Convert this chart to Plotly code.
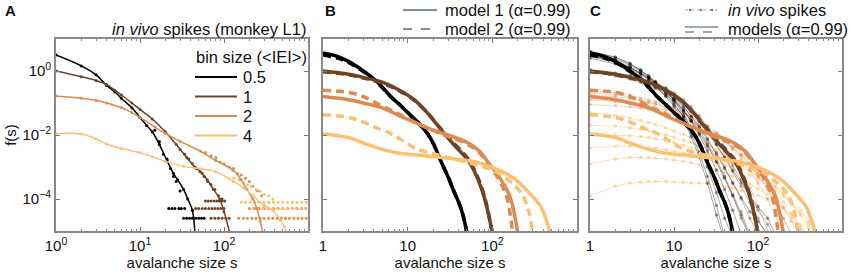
import plotly.graph_objects as go

# ---------------- colours by bin size ----------------
bin_labels = ["0.5", "1", "2", "4"]
bin_colors = ["#000000", "#6f4324", "#de8a50", "#fcc073"]
thin_colors = ["rgba(0,0,0,0.38)", "rgba(111,67,36,0.40)", "rgba(222,138,80,0.40)", "rgba(252,192,115,0.55)"]
legend_grey = "#7f909b"

# ---------------- Panel A: in vivo, smoothed lines (s, log10 f) ----------------
A_s = [
    [1, 2, 3, 4, 5, 6, 8, 10, 12, 14, 17, 21, 25, 28, 33, 37, 42, 45],
    [1, 2, 3, 4, 5, 6, 8, 10, 14, 20, 27, 36, 45, 55, 63, 75, 89, 100, 117],
    [1, 2, 3, 4, 6, 8, 10, 15, 20, 30, 52, 80, 128, 160, 187, 220, 246, 270, 290],
    [1, 2, 3, 4, 6, 10, 14, 20, 33, 52, 80, 130, 170, 222, 300, 383, 464, 520, 560],
]
A_logf = [
    [0.5, 0.16, -0.12, -0.45, -0.65, -0.85, -1.15, -1.45, -1.7, -1.9, -2.3, -2.8, -3.2, -3.4, -3.7, -4.0, -4.35, -5.05],
    [0.0, -0.18, -0.3, -0.42, -0.6, -0.75, -1.0, -1.2, -1.5, -1.9, -2.3, -2.7, -3.0, -3.2, -3.4, -3.7, -4.0, -4.4, -5.05],
    [-0.78, -0.85, -0.92, -1.0, -1.15, -1.3, -1.45, -1.75, -1.95, -2.2, -2.5, -2.8, -3.1, -3.4, -3.7, -4.0, -4.3, -4.7, -5.05],
    [-1.95, -1.97, -2.12, -2.28, -2.42, -2.55, -2.68, -2.82, -2.98, -3.05, -3.15, -3.45, -3.65, -3.9, -4.2, -4.35, -4.65, -4.85, -5.05],
]
# Panel A: raw (unsmoothed) points in the tails (s, log10 f)
A_dots_s = [
    [15, 17, 19, 21, 23, 25, 27, 30, 22, 24, 26, 29, 31, 34, 33, 36, 39, 42, 46, 50, 54, 58],
    [30, 34, 38, 42, 47, 52, 58, 64, 70, 78, 86, 95, 60, 65, 70, 76, 82, 88, 95, 102,
     46, 50, 55, 60, 66, 72, 78, 85, 92, 100, 70, 78, 86, 95, 105, 115],
    [60, 70, 80, 90, 100, 115, 130, 145, 160, 180, 200, 220, 250, 280,
     150, 170, 190, 215, 240, 270, 300, 340, 380, 430, 480, 540, 600, 680, 760, 850, 950,
     200, 230, 260, 300, 340, 390, 440, 500, 570, 650, 740, 840, 940],
    [130, 150, 170, 190, 210, 240, 270, 300, 340, 380,
     160, 180, 205, 230, 260, 300, 340, 390, 440, 500, 570, 650, 740, 840, 950,
     220, 250, 290, 330, 380, 430, 490, 560, 640, 720, 820, 930],
]
A_dots_logf = [
    [-1.85, -2.2, -2.6, -2.75, -3.05, -3.3, -3.45, -3.75, -4.3, -4.3, -4.3, -4.3, -4.3, -4.3,
     -4.6, -4.6, -4.6, -4.6, -4.6, -4.6, -4.6, -4.6],
    [-2.45, -2.6, -2.75, -2.9, -3.05, -3.15, -3.3, -3.45, -3.55, -3.7, -3.9, -4.0,
     -4.06, -4.06, -4.06, -4.06, -4.06, -4.06, -4.06, -4.06,
     -4.3, -4.3, -4.3, -4.3, -4.3, -4.3, -4.3, -4.3, -4.3, -4.3,
     -4.6, -4.6, -4.6, -4.6, -4.6, -4.6],
    [-2.55, -2.65, -2.7, -2.85, -2.9, -3.0, -3.05, -3.2, -3.25, -3.35, -3.45, -3.6, -3.75, -3.9,
     -4.6, -4.6, -4.6, -4.6, -4.6, -4.6, -4.6, -4.6, -4.6, -4.6, -4.6, -4.6, -4.6, -4.6, -4.6, -4.6, -4.6,
     -4.3, -4.3, -4.3, -4.3, -4.3, -4.3, -4.3, -4.3, -4.3, -4.3, -4.3, -4.3, -4.3],
    [-3.35, -3.4, -3.5, -3.55, -3.6, -3.7, -3.75, -3.85, -3.9, -4.0,
     -4.1, -4.1, -4.1, -4.1, -4.1, -4.1, -4.1, -4.1, -4.1, -4.1, -4.1, -4.1, -4.1, -4.1, -4.1,
     -4.3, -4.3, -4.3, -4.3, -4.3, -4.3, -4.3, -4.3, -4.3, -4.3, -4.3, -4.3],
]

# ---------------- Panel B/C: models (s, log10 f) ----------------
M1_s = [
    [1, 1.5, 2, 3, 4, 5, 6.3, 8, 10, 13, 17.6, 20.8, 25, 30.5, 35, 40, 45, 50],
    [1, 2, 3, 5, 8, 12, 17, 25, 35, 52, 63, 75, 85, 100],
    [1, 2, 3, 5, 8, 12, 20, 30, 52, 70, 92, 120, 160, 180, 200],
    [1, 2, 3, 5, 7.7, 12, 25, 50, 75, 120, 190, 260, 366, 420, 480],
]
M1_logf = [
    [0.56, 0.45, 0.3, 0.0, -0.25, -0.5, -0.8, -1.05, -1.3, -1.58, -2.0, -2.35, -2.85, -3.35, -3.75, -4.1, -4.5, -5.05],
    [0.0, -0.1, -0.2, -0.35, -0.6, -0.9, -1.3, -1.85, -2.3, -2.8, -3.2, -3.7, -4.2, -5.05],
    [-0.8, -0.9, -1.0, -1.15, -1.4, -1.6, -1.85, -2.0, -2.25, -2.5, -2.9, -3.3, -3.9, -4.4, -5.05],
    [-1.97, -2.08, -2.25, -2.45, -2.56, -2.62, -2.7, -2.8, -2.9, -3.1, -3.4, -3.75, -4.2, -4.55, -5.05],
]
M2_s = [
    [1, 1.5, 2, 3, 4, 5, 6.3, 8, 10, 13, 17.6, 20.8, 25, 30.5, 35, 40, 45, 50],
    [1, 2, 3, 5, 8, 12, 17, 25, 35, 52, 63, 75, 85, 100],
    [1, 2, 3, 5, 8, 12, 20, 30, 52, 70, 92, 120, 150, 173],
    [1, 2, 3, 4.5, 6.3, 9, 12, 18, 30, 50, 80, 120, 170, 230, 270, 300],
]
M2_logf = [
    [0.5, 0.4, 0.27, -0.02, -0.27, -0.52, -0.8, -1.05, -1.3, -1.6, -2.0, -2.35, -2.85, -3.35, -3.75, -4.1, -4.5, -5.05],
    [-0.02, -0.12, -0.22, -0.38, -0.62, -0.92, -1.3, -1.82, -2.25, -2.75, -3.15, -3.65, -4.15, -5.05],
    [-0.6, -0.67, -0.8, -1.1, -1.35, -1.6, -1.85, -2.05, -2.3, -2.55, -2.95, -3.4, -4.0, -5.05],
    [-1.37, -1.45, -1.6, -1.8, -1.95, -2.2, -2.4, -2.55, -2.7, -2.85, -3.0, -3.2, -3.5, -3.9, -4.4, -5.05],
]

# ---------------- Panel C: individual recordings (s grid, log10 f) ----------------
C_s = [1, 2, 3, 4, 5, 6, 8, 10, 13, 16, 20, 25, 32, 40, 50, 63, 80, 100, 130, 160, 200, 250, 320, 400, 500, 630, 800]
C_logf = [
    [  # bin 0.5
        [0.6, 0.42, 0.22, 0.02, -0.18, -0.38, -0.7, -1.0, -1.45, -1.95, -2.55, -3.3, -4.2, -5.2],
        [0.5, 0.33, 0.12, -0.08, -0.28, -0.46, -0.8, -1.1, -1.55, -2.05, -2.7, -3.5, -4.5, -5.3],
        [0.45, 0.28, 0.08, -0.1, -0.25, -0.4, -0.65, -0.9, -1.25, -1.55, -1.95, -2.35, -2.85, -3.35, -3.9, -4.5, -5.2],
        [0.55, 0.38, 0.18, 0.0, -0.2, -0.36, -0.62, -0.88, -1.22, -1.58, -2.0, -2.5, -3.1, -3.7, -4.35, -5.1],
        [0.4, 0.22, 0.02, -0.18, -0.34, -0.5, -0.78, -1.05, -1.42, -1.8, -2.25, -2.8, -3.45, -4.15, -5.0],
        [0.62, 0.44, 0.24, 0.04, -0.14, -0.32, -0.62, -0.92, -1.35, -1.8, -2.35, -3.0, -3.8, -4.6, -5.2],
        [0.5, 0.3, 0.1, -0.08, -0.22, -0.38, -0.6, -0.82, -1.12, -1.42, -1.78, -2.15, -2.6, -3.05, -3.5, -3.95, -4.4, -4.7, -5.1],
        [0.48, 0.3, 0.12, -0.05, -0.2, -0.34, -0.55, -0.75, -1.02, -1.28, -1.58, -1.92, -2.3, -2.7, -3.1, -3.5, -3.9, -4.25, -4.6, -5.1],
    ],
    [  # bin 1
        [0.02, -0.1, -0.2, -0.3, -0.4, -0.5, -0.7, -0.9, -1.2, -1.5, -1.85, -2.25, -2.75, -3.3, -3.9, -4.6, -5.2],
        [0.0, -0.08, -0.16, -0.25, -0.33, -0.42, -0.58, -0.75, -1.0, -1.25, -1.55, -1.9, -2.3, -2.7, -3.15, -3.6, -4.1, -4.6, -5.2],
        [-0.05, -0.15, -0.25, -0.35, -0.45, -0.55, -0.75, -0.95, -1.25, -1.55, -1.9, -2.3, -2.8, -3.3, -3.85, -4.4, -5.1],
        [0.04, -0.06, -0.14, -0.22, -0.3, -0.38, -0.52, -0.68, -0.9, -1.12, -1.4, -1.72, -2.1, -2.5, -2.95, -3.4, -3.9, -4.35, -4.8, -5.2],
        [-0.02, -0.12, -0.22, -0.32, -0.42, -0.5, -0.68, -0.86, -1.12, -1.4, -1.72, -2.1, -2.55, -3.0, -3.5, -4.0, -4.6, -5.1],
    ],
    [  # bin 2
        [-0.6, -0.68, -0.76, -0.84, -0.9, -0.96, -1.06, -1.15, -1.3, -1.42, -1.58, -1.75, -1.95, -2.15, -2.4, -2.65, -2.95, -3.3, -3.7, -4.1, -4.6, -5.1],
        [-0.75, -0.8, -0.86, -0.92, -0.98, -1.03, -1.12, -1.2, -1.32, -1.44, -1.58, -1.74, -1.92, -2.12, -2.35, -2.6, -2.9, -3.25, -3.65, -4.1, -4.6, -5.1],
        [-0.9, -0.95, -1.0, -1.05, -1.1, -1.15, -1.22, -1.3, -1.42, -1.53, -1.67, -1.82, -2.0, -2.2, -2.45, -2.75, -3.1, -3.5, -4.0, -4.5, -5.1],
        [-1.05, -1.08, -1.12, -1.16, -1.2, -1.24, -1.3, -1.37, -1.47, -1.57, -1.7, -1.85, -2.02, -2.2, -2.4, -2.62, -2.88, -3.15, -3.5, -3.85, -4.25, -4.7, -5.2],
        [-0.68, -0.74, -0.82, -0.9, -0.97, -1.03, -1.14, -1.25, -1.4, -1.56, -1.75, -1.97, -2.22, -2.5, -2.82, -3.2, -3.65, -4.2, -5.0],
    ],
    [  # bin 4
        [-1.3, -1.38, -1.47, -1.55, -1.62, -1.68, -1.78, -1.87, -1.98, -2.08, -2.2, -2.32, -2.46, -2.6, -2.76, -2.93, -3.12, -3.32, -3.55, -3.8, -4.1, -4.45, -4.9, -5.3],
        [-1.7, -1.72, -1.78, -1.82, -1.87, -1.92, -2.0, -2.07, -2.16, -2.24, -2.33, -2.42, -2.53, -2.64, -2.76, -2.9, -3.05, -3.22, -3.42, -3.62, -3.85, -4.15, -4.5, -4.9, -5.3],
        [-2.0, -2.0, -2.02, -2.05, -2.08, -2.12, -2.18, -2.24, -2.32, -2.4, -2.48, -2.57, -2.67, -2.77, -2.88, -3.0, -3.13, -3.27, -3.43, -3.6, -3.8, -4.05, -4.35, -4.7, -5.1],
        [-2.4, -2.35, -2.35, -2.37, -2.4, -2.42, -2.46, -2.5, -2.56, -2.62, -2.68, -2.76, -2.84, -2.93, -3.03, -3.14, -3.26, -3.4, -3.55, -3.72, -3.92, -4.15, -4.45, -4.8, -5.2],
        [-2.9, -2.75, -2.7, -2.7, -2.7, -2.72, -2.75, -2.78, -2.82, -2.87, -2.93, -3.0, -3.08, -3.17, -3.28, -3.4, -3.53, -3.68, -3.85, -4.05, -4.3, -4.6, -4.95, -5.3],
        [-3.9, -3.6, -3.5, -3.48, -3.45, -3.45, -3.46, -3.47, -3.48, -3.5, -3.5, -3.52, -3.55, -3.6, -3.65, -3.72, -3.8, -3.9, -4.0, -4.15, -4.3, -4.5, -4.8, -5.2],
    ],
]

# ---------------- axis labels ----------------
y_tickvals = [1, 1e-2, 1e-4]
y_ticktext = ["10<sup>0</sup>", "10<sup>−2</sup>", "10<sup>−4</sup>"]
xA_ticktext = ["10<sup>0</sup>", "10<sup>1</sup>", "10<sup>2</sup>"]
xBC_ticktext = ["1", "10", "10<sup>2</sup>"]
x_tickvals = [1, 10, 100]

W, H = 850, 276
FONT = "Liberation Sans, Arial, sans-serif"
TICK_SIZE = 15
TEXT_SIZE = 16.5


def p(v):
    return [10 ** x for x in v]


fig = go.Figure()

# Panel A
for i in range(4):
    fig.add_trace(go.Scatter(x=A_dots_s[i], y=p(A_dots_logf[i]), mode="markers",
                             marker=dict(size=3, color=bin_colors[i]), xaxis="x", yaxis="y",
                             showlegend=False, hoverinfo="skip"))
for i in range(4):
    fig.add_trace(go.Scatter(x=A_s[i], y=p(A_logf[i]), mode="lines+markers",
                             line=dict(color=bin_colors[i], width=1.5, shape="spline"),
                             marker=dict(size=3, color=bin_colors[i]),
                             xaxis="x", yaxis="y", showlegend=False))

# Panel B
for i in range(4):
    fig.add_trace(go.Scatter(x=M2_s[i], y=p(M2_logf[i]), mode="lines",
                             line=dict(color=bin_colors[i], width=3.5, dash="8px,5px", shape="spline"),
                             xaxis="x2", yaxis="y2", showlegend=False))
    fig.add_trace(go.Scatter(x=M1_s[i], y=p(M1_logf[i]), mode="lines",
                             line=dict(color=bin_colors[i], width=3.5, shape="spline"),
                             xaxis="x2", yaxis="y2", showlegend=False))

# Panel C: thin recordings
for i in [3, 2, 1, 0]:
    for curve in C_logf[i]:
        fig.add_trace(go.Scatter(x=C_s[:len(curve)], y=p(curve), mode="lines+markers",
                                 line=dict(color=thin_colors[i], width=0.9),
                                 marker=dict(size=3.5, color=thin_colors[i]),
                                 xaxis="x3", yaxis="y3", showlegend=False))
for i in range(4):
    fig.add_trace(go.Scatter(x=M2_s[i], y=p(M2_logf[i]), mode="lines",
                             line=dict(color=bin_colors[i], width=3.5, dash="8px,5px", shape="spline"),
                             xaxis="x3", yaxis="y3", showlegend=False))
    fig.add_trace(go.Scatter(x=M1_s[i], y=p(M1_logf[i]), mode="lines",
                             line=dict(color=bin_colors[i], width=3.5, shape="spline"),
                             xaxis="x3", yaxis="y3", showlegend=False))

# ---------------- layout ----------------
def xaxis(dom, ticktext, anchor):
    return dict(type="log", range=[0, 3], domain=dom, anchor=anchor, automargin=False,
                tickvals=x_tickvals, ticktext=ticktext,
                ticks="inside", ticklen=4, tickcolor="#777", tickwidth=1,
                minor=dict(ticks="inside", ticklen=2.5, tickcolor="#888", dtick="D1", showgrid=False),
                showline=True, linecolor="#8a8a8a", linewidth=1.6, mirror="allticks",
                showgrid=False, zeroline=False,
                tickfont=dict(family=FONT, size=TICK_SIZE, color="#111"),
                title=dict(text="avalanche size s", standoff=2,
                           font=dict(family=FONT, size=TICK_SIZE, color="#111")))


def yaxis(anchor, show_labels):
    return dict(type="log", range=[-5, 1], domain=[1 - 231 / H, 1 - 39 / H], anchor=anchor,
                automargin=False,
                tickvals=y_tickvals, ticktext=y_ticktext,
                showticklabels=show_labels,
                ticks="inside", ticklen=4, tickcolor="#777",
                showline=True, linecolor="#8a8a8a", linewidth=1.6, mirror="allticks",
                showgrid=False, zeroline=False,
                tickfont=dict(family=FONT, size=TICK_SIZE, color="#111"))


fig.update_layout(
    width=W, height=H, margin=dict(l=0, r=0, t=0, b=0, autoexpand=False),
    paper_bgcolor="white", plot_bgcolor="white",
    font=dict(family=FONT, size=TICK_SIZE, color="#111"),
    xaxis=xaxis([56 / W, 308 / W], xA_ticktext, "y"),
    xaxis2=xaxis([323 / W, 577 / W], xBC_ticktext, "y2"),
    xaxis3=xaxis([590 / W, 842 / W], xBC_ticktext, "y3"),
    yaxis=yaxis("x", True),
    yaxis2=yaxis("x2", False),
    yaxis3=yaxis("x3", False),
)
fig.layout.yaxis.title = dict(text="f(s)", standoff=2, font=dict(family=FONT, size=TICK_SIZE, color="#111"))

ann = []
shapes = []


def px(x):
    return x / W


def py(y):
    return 1 - y / H


def text(x, y, t, size=TEXT_SIZE, xanchor="left", bold=False):
    ann.append(dict(xref="paper", yref="paper", x=px(x), y=py(y), text=t,
                    showarrow=False, xanchor=xanchor, yanchor="middle",
                    font=dict(family=FONT, size=size, color="#111", weight="bold" if bold else "normal")))


def hline(x0, x1, y, color, width=2, dash="solid"):
    shapes.append(dict(type="line", xref="paper", yref="paper", x0=px(x0), x1=px(x1), y0=py(y), y1=py(y),
                       line=dict(color=color, width=width, dash=dash)))


# panel letters
text(3, 11, "A", 15, bold=True)
text(323, 11, "B", 15, bold=True)
text(588, 11, "C", 15, bold=True)

# Panel A title and legend
text(308, 29, "<i>in vivo</i> spikes (monkey L1)", xanchor="right")
text(194, 57, "bin size (&lt;IEI&gt;)")
for k, (lab, col) in enumerate(zip(bin_labels, bin_colors)):
    y = 77 + k * 19.5
    hline(195, 237, y, col, 2)
    text(241, y, lab)

# Panel B legend
hline(403, 437, 10, legend_grey, 1.8)
text(443, 10, "model 1 (α=0.99)")
hline(403, 437, 29, legend_grey, 1.8, "dash")
text(443, 29, "model 2 (α=0.99)")

# Panel C legend
hline(685, 718, 10, "#9aa7b0", 1, "dot")
for xd in [690, 701, 712]:
    shapes.append(dict(type="circle", xref="paper", yref="paper", x0=px(xd - 1.3), x1=px(xd + 1.3),
                       y0=py(10 + 1.3), y1=py(10 - 1.3), fillcolor="#6f7f89", line=dict(width=0)))
text(726, 10, "<i>in vivo</i> spikes")
hline(685, 718, 27, legend_grey, 1.6)
hline(685, 718, 32, legend_grey, 1.6, "dash")
text(726, 29, "models (α=0.99)")

fig.update_layout(annotations=ann, shapes=shapes)

fig.write_html("out.html", config={"displayModeBar": False},
               post_script="document.body.style.margin='0';")
